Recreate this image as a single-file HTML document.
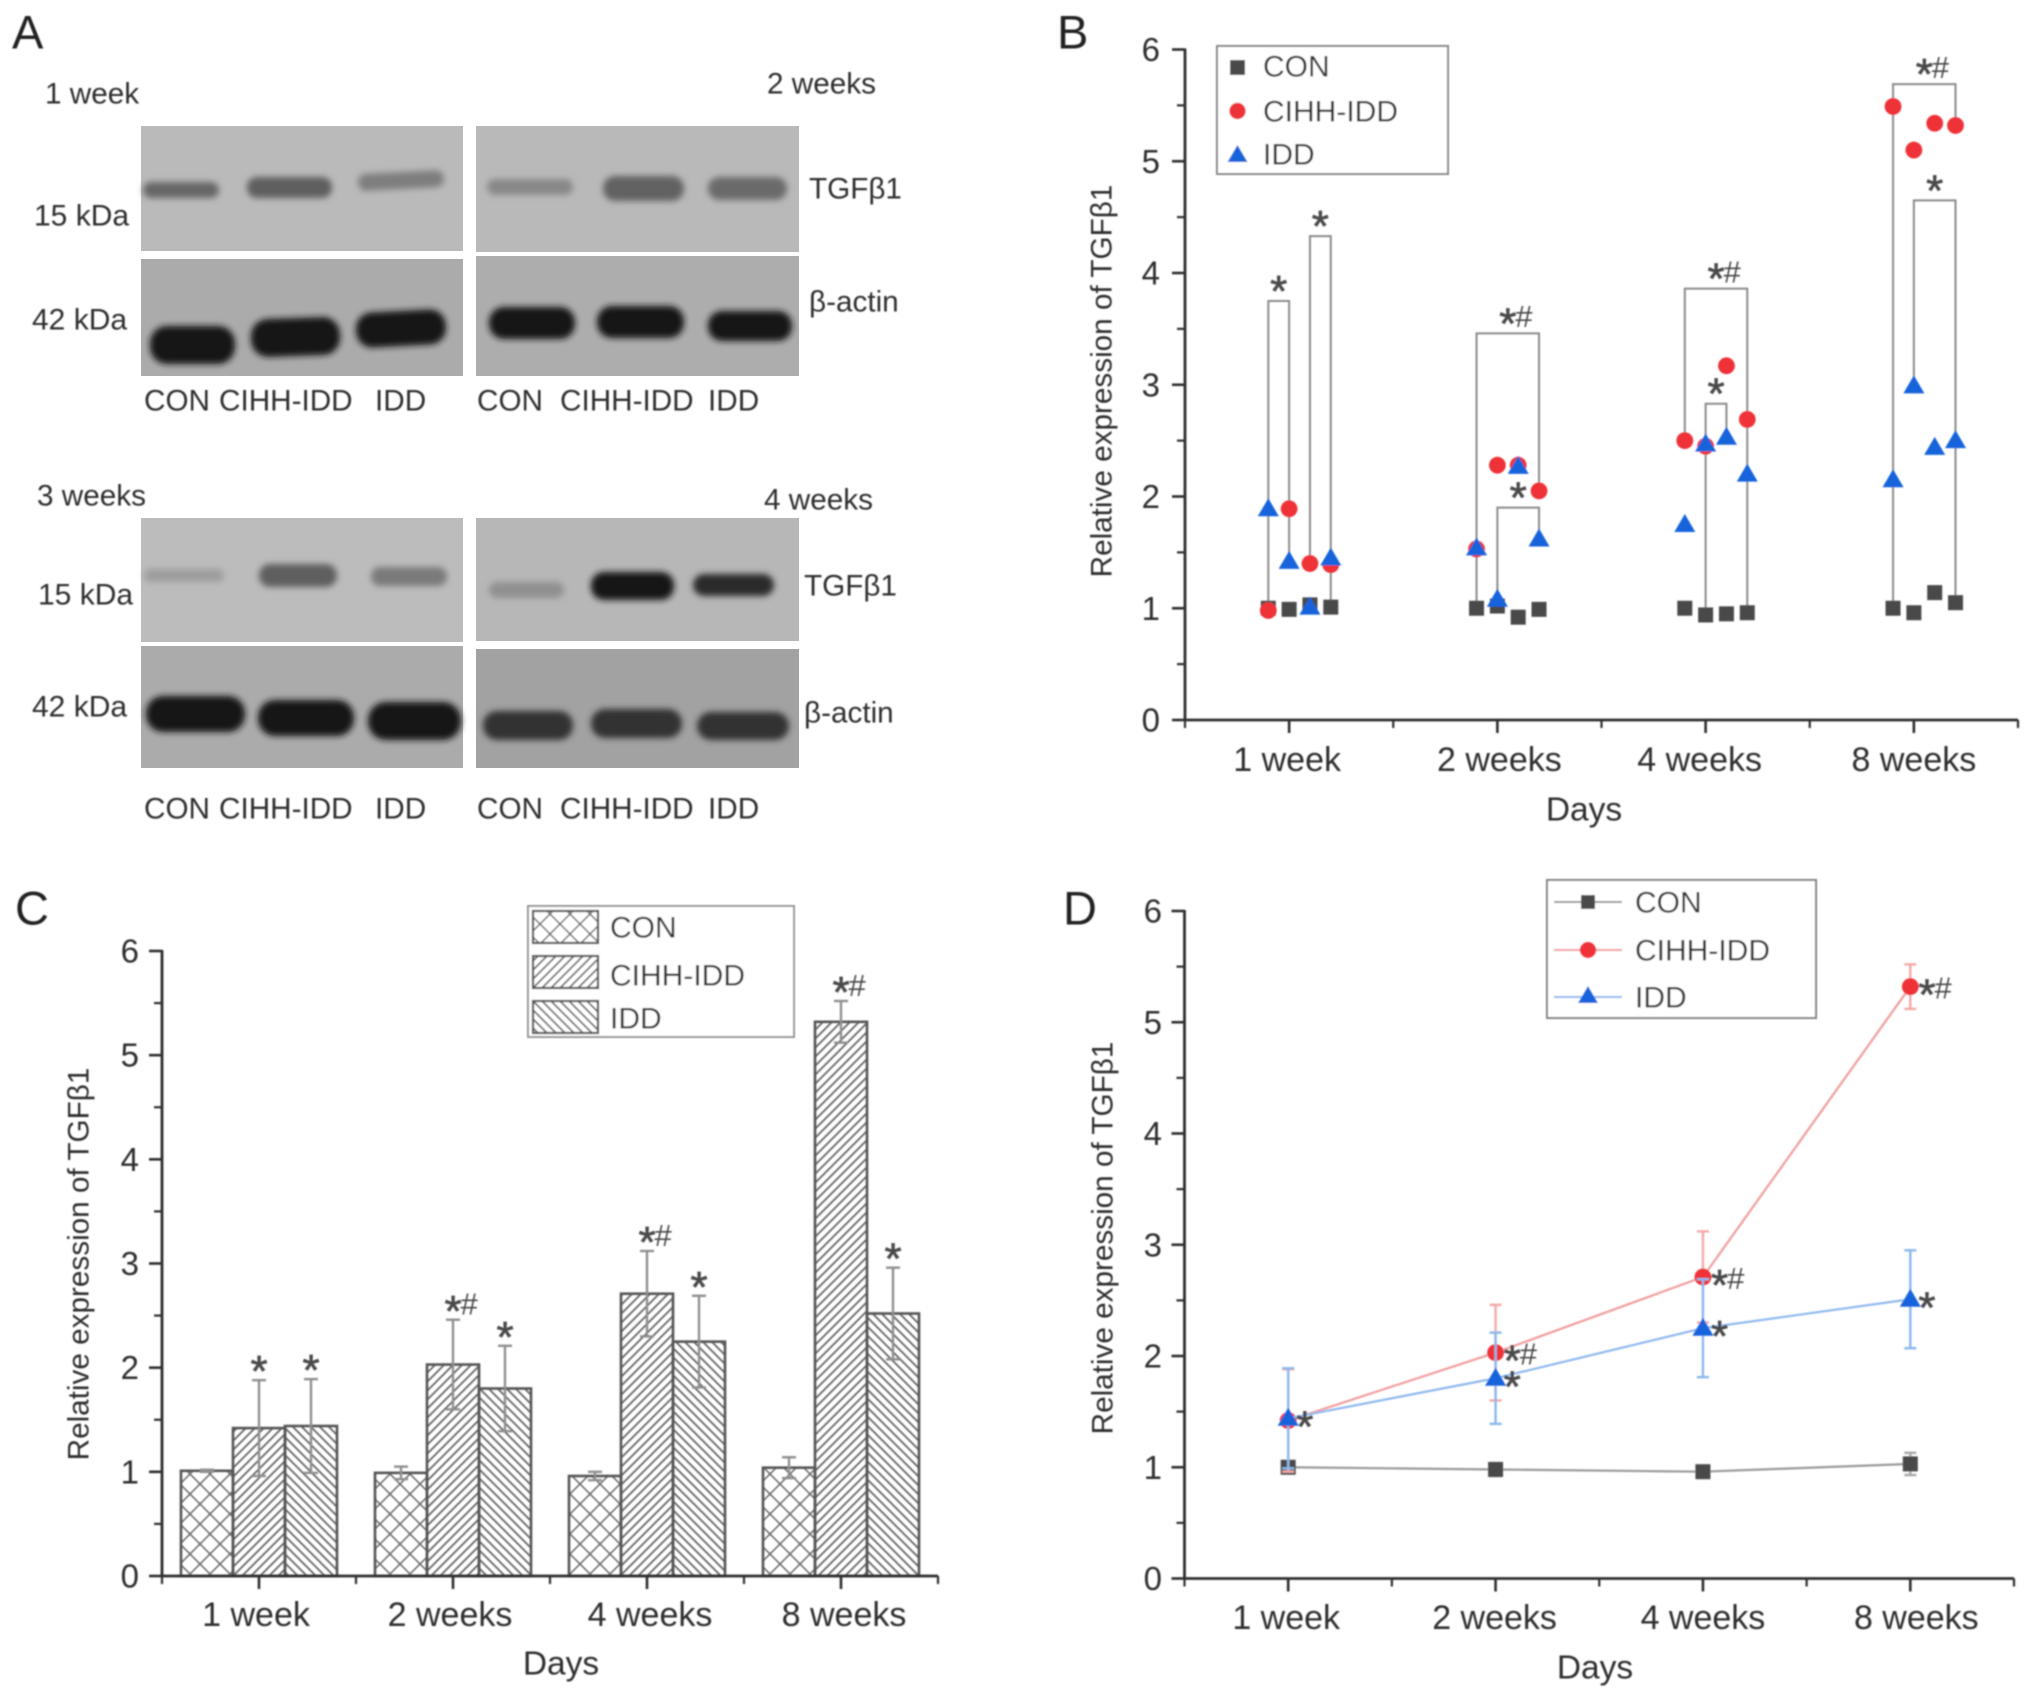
<!DOCTYPE html>
<html lang="en">
<head>
<meta charset="utf-8">
<title>TGFβ1 expression figure</title>
<style>
html,body{margin:0;padding:0;background:#fff;}
body{width:2032px;height:1701px;overflow:hidden;}
svg{display:block;font-family:"Liberation Sans",Arial,sans-serif;fill:#2e2e2e;}
.pl{font-size:29.7px;dominant-baseline:central;fill:#2e2e2e;}
.kd{font-size:30px;dominant-baseline:central;fill:#2e2e2e;}
.letter{font-size:47px;dominant-baseline:central;fill:#222;}
.lg{font-size:30px;dominant-baseline:central;fill:#2e2e2e;}
</style>
</head>
<body>
<svg id="figure" xmlns="http://www.w3.org/2000/svg" width="2032" height="1701" viewBox="0 0 2032 1701">
<defs>
<filter id="soft" x="-2%" y="-2%" width="104%" height="104%"><feGaussianBlur stdDeviation="0.75"/></filter>
<filter id="bandBlur" x="-20%" y="-60%" width="140%" height="220%"><feGaussianBlur stdDeviation="3.2"/></filter>
<pattern id="hatch-cross" patternUnits="userSpaceOnUse" width="20" height="20" patternTransform="translate(0 4)">
<path d="M-2 -2L22 22M-2 22L22 -2M-12 8L12 32M8 -12L32 12M8 32L32 8M-12 12L12 -12" stroke="#666" stroke-width="1.5" fill="none"/>
</pattern>
<pattern id="hatch-fwd" patternUnits="userSpaceOnUse" width="9" height="9">
<path d="M-2 2L2 -2M0 9L9 0M7 11L11 7" stroke="#666" stroke-width="1.8" fill="none"/>
</pattern>
<pattern id="hatch-back" patternUnits="userSpaceOnUse" width="9" height="9">
<path d="M-2 7L2 11M0 0L9 9M7 -2L11 2" stroke="#666" stroke-width="1.8" fill="none"/>
</pattern>
</defs>

<!-- PANEL A : western blots -->
<g id="panel-a">
<g>
<rect x="141" y="126" width="322" height="125" fill="#bababa"/>
<rect x="476" y="126" width="323" height="126" fill="#b9b9b9"/>
<rect x="141" y="259" width="322" height="117" fill="#ababab"/>
<rect x="476" y="256" width="323" height="120" fill="#adadad"/>
<rect x="141" y="518" width="322" height="124" fill="#bcbcbc"/>
<rect x="476" y="518" width="323" height="123" fill="#b7b7b7"/>
<rect x="141" y="646" width="322" height="122" fill="#ababab"/>
<rect x="476" y="649" width="323" height="119" fill="#a2a2a2"/>
<g filter="url(#bandBlur)">
<rect x="143" y="182" width="76" height="16" rx="8" fill="#666"/>
<rect x="247" y="177" width="85" height="21" rx="10" fill="#5f5f5f"/>
<rect x="358" y="172" width="86" height="17" rx="8" fill="#7e7e7e" transform="rotate(-3 402 181)"/>
<rect x="487" y="179" width="86" height="16" rx="8" fill="#888"/>
<rect x="603" y="176" width="81" height="25" rx="12" fill="#626262"/>
<rect x="708" y="177" width="79" height="23" rx="11" fill="#6b6b6b"/>
<rect x="150" y="326" width="85" height="38" rx="17" fill="#141414"/>
<rect x="251" y="318" width="89" height="38" rx="17" fill="#141414" transform="rotate(-2 296 337)"/>
<rect x="356" y="311" width="90" height="35" rx="16" fill="#141414" transform="rotate(-3 401 329)"/>
<rect x="489" y="307" width="86" height="32" rx="15" fill="#161616"/>
<rect x="597" y="306" width="87" height="32" rx="15" fill="#161616"/>
<rect x="708" y="311" width="84" height="30" rx="14" fill="#161616"/>
<rect x="144" y="569" width="80" height="13" rx="6" fill="#9d9d9d"/>
<rect x="259" y="564" width="78" height="23" rx="11" fill="#5f5f5f"/>
<rect x="371" y="567" width="76" height="19" rx="9" fill="#7a7a7a"/>
<rect x="489" y="582" width="75" height="16" rx="8" fill="#909090"/>
<rect x="591" y="572" width="83" height="28" rx="13" fill="#141414"/>
<rect x="693" y="574" width="81" height="22" rx="11" fill="#2a2a2a"/>
<rect x="146" y="696" width="99" height="36" rx="17" fill="#131313"/>
<rect x="258" y="700" width="96" height="36" rx="17" fill="#131313"/>
<rect x="368" y="702" width="93" height="38" rx="18" fill="#131313"/>
<rect x="483" y="711" width="90" height="29" rx="14" fill="#333"/>
<rect x="591" y="709" width="91" height="29" rx="14" fill="#333"/>
<rect x="697" y="712" width="92" height="28" rx="14" fill="#333"/>
</g>
</g>
<g filter="url(#soft)">
<text class="letter" x="12" y="32">A</text>
<text class="pl" x="45" y="94">1 week</text>
<text class="pl" x="767" y="84">2 weeks</text>
<text class="kd" x="34" y="216">15 kDa</text>
<text class="kd" x="32" y="320">42 kDa</text>
<text class="pl" x="809" y="189">TGFβ1</text>
<text class="pl" x="809" y="302">β-actin</text>
<text class="pl" x="144" y="401">CON</text>
<text class="pl" x="219" y="401">CIHH-IDD</text>
<text class="pl" x="375" y="401">IDD</text>
<text class="pl" x="477" y="401">CON</text>
<text class="pl" x="560" y="401">CIHH-IDD</text>
<text class="pl" x="708" y="401">IDD</text>
<text class="pl" x="37" y="496">3 weeks</text>
<text class="pl" x="764" y="500">4 weeks</text>
<text class="kd" x="38" y="595">15 kDa</text>
<text class="kd" x="32" y="707">42 kDa</text>
<text class="pl" x="804" y="586">TGFβ1</text>
<text class="pl" x="804" y="713">β-actin</text>
<text class="pl" x="144" y="809">CON</text>
<text class="pl" x="219" y="809">CIHH-IDD</text>
<text class="pl" x="375" y="809">IDD</text>
<text class="pl" x="477" y="809">CON</text>
<text class="pl" x="560" y="809">CIHH-IDD</text>
<text class="pl" x="708" y="809">IDD</text>
</g>
</g>

<!-- PANEL B -->
<g id="panel-b" filter="url(#soft)">
<text class="letter" x="1057" y="32">B</text>
<g id="b-axes"></g>
<g id="b-brackets"></g>
<g id="b-marks"></g>
<g>
<rect x="1217" y="46" width="231" height="128" fill="#fff" stroke="#858585" stroke-width="2"/>
<rect x="1230" y="60" width="15" height="15" fill="#4a4a4a"/>
<circle cx="1237.5" cy="111" r="8.2" fill="#ee3338"/>
<polygon points="1237.5,145 1247.5,162 1227.5,162" fill="#1464dc"/>
<text class="lg" x="1263" y="67">CON</text>
<text class="lg" x="1263" y="112">CIHH-IDD</text>
<text class="lg" x="1263" y="155">IDD</text>
</g>
</g>

<!-- PANEL C -->
<g id="panel-c" filter="url(#soft)">
<text class="letter" x="15" y="908">C</text>
<g id="c-marks"></g>
<g id="c-axes"></g>
<g>
<rect x="528" y="906" width="266" height="131" fill="#fff" stroke="#949494" stroke-width="2"/>
<rect x="533" y="911" width="65" height="32" fill="url(#hatch-cross)" stroke="#555" stroke-width="2.2"/>
<rect x="533" y="956" width="65" height="32" fill="url(#hatch-fwd)" stroke="#555" stroke-width="2.2"/>
<rect x="533" y="1001" width="65" height="32" fill="url(#hatch-back)" stroke="#555" stroke-width="2.2"/>
<text class="lg" x="610" y="928">CON</text>
<text class="lg" x="610" y="976">CIHH-IDD</text>
<text class="lg" x="610" y="1019">IDD</text>
</g>
</g>

<!-- PANEL D -->
<g id="panel-d" filter="url(#soft)">
<text class="letter" x="1063" y="908">D</text>
<g id="d-axes"></g>
<g id="d-marks"></g>
<g>
<rect x="1547" y="880" width="269" height="138" fill="#fff" stroke="#808080" stroke-width="2"/>
<line x1="1554" x2="1622" y1="902" y2="902" stroke="#9a9a9a" stroke-width="2"/>
<rect x="1581" y="895" width="14" height="14" fill="#4a4a4a"/>
<line x1="1554" x2="1622" y1="950" y2="950" stroke="#f29c9c" stroke-width="2"/>
<circle cx="1588" cy="950" r="8.2" fill="#ee3338"/>
<line x1="1554" x2="1622" y1="997" y2="997" stroke="#8fb8ef" stroke-width="2"/>
<polygon points="1588,986 1598,1003 1578,1003" fill="#1464dc"/>
<text class="lg" x="1635" y="903">CON</text>
<text class="lg" x="1635" y="951">CIHH-IDD</text>
<text class="lg" x="1635" y="998">IDD</text>
</g>
</g>
</svg>

<script>
// ---------- shared data ----------
const categories = ['1 week', '2 weeks', '4 weeks', '8 weeks'];
const yTickLabels = ['0', '1', '2', '3', '4', '5', '6'];
const xAxisTitle = 'Days';
const yAxisTitle = 'Relative expression of TGFβ1';

// ---------- panel B : replicate scatter ----------
const replicateOffsets = [-0.1, 0, 0.1, 0.2];
const scatterCon = [[1.00, 0.99, 1.03, 1.01], [1.00, 1.02, 0.92, 0.99], [1.00, 0.94, 0.95, 0.96], [1.00, 0.96, 1.14, 1.05]];
const scatterCihh = [[0.98, 1.89, 1.40, 1.39], [1.53, 2.28, 2.28, 2.05], [2.50, 2.45, 3.17, 2.69], [5.49, 5.10, 5.34, 5.32]];
const scatterIdd = [[1.89, 1.42, 1.01, 1.45], [1.54, 1.08, 2.27, 1.62], [1.75, 2.47, 2.53, 2.20], [2.15, 2.99, 2.44, 2.50]];
// bracket: left category pos, right category pos, top value, left foot, right foot, significance label
const sigBrackets = [
  [0.9, 1.0, 3.75, 1.00, 1.42, '*'],
  [1.1, 1.2, 4.33, 1.40, 1.01, '*'],
  [1.9, 2.2, 3.46, 1.00, 2.05, '*#'],
  [2.0, 2.2, 1.90, 1.08, 1.62, '*'],
  [2.9, 3.2, 3.86, 2.50, 0.96, '*#'],
  [3.0, 3.1, 2.83, 0.94, 2.53, '*'],
  [3.9, 4.2, 5.69, 1.00, 5.32, '*#'],
  [4.0, 4.2, 4.65, 2.99, 1.05, '*']
];

// ---------- panel C / D : means ----------
const barCon = [1.01, 0.99, 0.96, 1.04];
const barCihh = [1.42, 2.03, 2.71, 5.32];
const barIdd = [1.44, 1.80, 2.25, 2.52];
const barConErr = [0.01, 0.06, 0.04, 0.10];
const barCihhErr = [0.46, 0.43, 0.41, 0.20];
const barIddErr = [0.45, 0.41, 0.44, 0.44];
const barCihhSig = ['*', '*#', '*#', '*#'];
const barIddSig = ['*', '*', '*', '*'];

const lineCon = [1.00, 0.98, 0.96, 1.03];
const lineCihh = [1.42, 2.03, 2.71, 5.32];
const lineIdd = [1.44, 1.80, 2.25, 2.51];
const lineConErr = [0.01, 0.06, 0.04, 0.10];
const lineCihhErr = [0.46, 0.43, 0.41, 0.20];
const lineIddErr = [0.45, 0.41, 0.44, 0.44];
const lineCihhSig = ['', '*#', '*#', '*#'];
const lineIddSig = ['*', '*', '*', '*'];

// ---------- helpers ----------
const NS = 'http://www.w3.org/2000/svg';
function make(tag, parent, props) {
  const el = document.createElementNS(NS, tag);
  for (const k in props) el.setAttribute(k, props[k]);
  parent.appendChild(el);
  return el;
}
function scales(box) {
  return {
    x: v => box.x0 + (v - 0.5) / categories.length * (box.x1 - box.x0),
    y: v => box.y0 + (v / 6) * (box.yTop - box.y0)
  };
}
function drawAxes(target, box, s) {
  const g = document.getElementById(target);
  const ink = '#2e2e2e';
  const xLine = make('line', g, {x1: box.x0 - 1, x2: box.x1, y1: box.y0, y2: box.y0, stroke: ink, 'stroke-width': 2.8});
  
  
  const yLine = make('line', g, {x1: box.x0, x2: box.x0, y1: box.y0 + 1, y2: box.yTop - 1, stroke: ink, 'stroke-width': 2.8});
  
  
  yTickLabels.forEach((lab, i) => {
    const v = Number(lab);
    const tick = make('line', g, {x1: box.x0 - 13, x2: box.x0, y1: s.y(v), y2: s.y(v), stroke: ink, 'stroke-width': 2.6});
    
    
    if (i < yTickLabels.length - 1) {
      const minor = make('line', g, {x1: box.x0 - 8, x2: box.x0, y1: s.y(v + 0.5), y2: s.y(v + 0.5), stroke: ink, 'stroke-width': 2.2});
      
      
    }
    const t = make('text', g, {x: box.yLabelX, y: s.y(v), 'text-anchor': 'end', 'dominant-baseline': 'central', 'font-size': 33, fill: ink});
    t.textContent = lab;
    
    
  });
  categories.forEach((lab, i) => {
    const px = s.x(i + 1);
    const tick = make('line', g, {x1: px, x2: px, y1: box.y0, y2: box.y0 + 13, stroke: ink, 'stroke-width': 2.6});
    
    
    const t = make('text', g, {x: px + box.nudge[i], y: box.xLabelY, 'text-anchor': 'middle', 'dominant-baseline': 'central', 'font-size': 34, fill: ink});
    t.textContent = lab;
    
    
  });
  for (let i = 0; i <= categories.length; i++) {
    const px = s.x(i + 0.5);
    const minor = make('line', g, {x1: px, x2: px, y1: box.y0, y2: box.y0 + 8, stroke: ink, 'stroke-width': 2.2});
    
    
  }
  const xt = make('text', g, {x: box.xTitleX, y: box.xTitleY, 'text-anchor': 'middle', 'dominant-baseline': 'central', 'font-size': 33.5, fill: ink});
  xt.textContent = xAxisTitle;
  
  
  const yt = make('text', g, {transform: 'translate(' + box.yTitleX + ' ' + box.yTitleY + ') rotate(-90)', 'text-anchor': 'middle', 'dominant-baseline': 'central', 'font-size': 29.7, fill: ink});
  yt.textContent = yAxisTitle;
  
  
}
function square(g, cx, cy, fill) {
  return make('rect', g, {x: cx - 7.5, y: cy - 7.5, width: 15, height: 15, fill: fill});
}
function dot(g, cx, cy, fill) {
  return make('circle', g, {cx: cx, cy: cy, r: 8.4, fill: fill});
}
function tri(g, cx, cy, fill) {
  return make('polygon', g, {points: (cx) + ',' + (cy - 10.5) + ' ' + (cx + 10.5) + ',' + (cy + 7.5) + ' ' + (cx - 10.5) + ',' + (cy + 7.5), fill: fill});
}
// The star is drawn larger and raised to the same centre line as the narrower hash.
function sigText(g, label, px, centerY, anchor) {
  const starSize = 44;
  const hashSize = 31;
  const t = make('text', g, {x: px, 'text-anchor': anchor, fill: '#4a4a4a'});
  const star = make('tspan', t, {y: centerY + starSize * 0.5, 'font-size': starSize, stroke: '#4a4a4a', 'stroke-width': 0.7});
  star.textContent = label.charAt(0);
  if (label.length > 1) {
    const hash = make('tspan', t, {y: centerY + hashSize * 0.35, dx: -1, 'font-size': hashSize});
    hash.textContent = label.slice(1);
  }
  return t;
}
function errorBar(g, px, top, bottom, stroke, cap) {
  const grp = make('g', g, {stroke: stroke, 'stroke-width': 2.4, fill: 'none'});
  make('line', grp, {x1: px, x2: px, y1: top, y2: bottom});
  make('line', grp, {x1: px - cap, x2: px + cap, y1: top, y2: top});
  make('line', grp, {x1: px - cap, x2: px + cap, y1: bottom, y2: bottom});
  return grp;
}

// ---------- panel B ----------
const boxB = {x0: 1185, x1: 2018, yTop: 49.5, y0: 720, yLabelX: 1160, xLabelY: 760, xTitleX: 1584, xTitleY: 810, yTitleX: 1102, yTitleY: 381, nudge: [-2, 2, -6, 0]};
const sB = scales(boxB);
drawAxes('b-axes', boxB, sB);
const bBrackets = document.getElementById('b-brackets');
sigBrackets.forEach(br => {
  const xl = sB.x(br[0]), xr = sB.x(br[1]), top = sB.y(br[2]);
  const path = make('path', bBrackets, {d: 'M' + xl + ' ' + sB.y(br[3]) + 'V' + top + 'H' + xr + 'V' + sB.y(br[4]), fill: 'none', stroke: '#8a8a8a', 'stroke-width': 2});
  
  
  const lab = sigText(bBrackets, br[5], (xl + xr) / 2, top - 17, 'middle');
  
  
});
const bMarks = document.getElementById('b-marks');
scatterCon.forEach((vals, c) => vals.forEach((v, r) => {
  const m = square(bMarks, sB.x(c + 1 + replicateOffsets[r]), sB.y(v), '#4a4a4a');
  
  
}));
scatterCihh.forEach((vals, c) => vals.forEach((v, r) => {
  const m = dot(bMarks, sB.x(c + 1 + replicateOffsets[r]), sB.y(v), '#ee3338');
  
  
}));
scatterIdd.forEach((vals, c) => vals.forEach((v, r) => {
  const m = tri(bMarks, sB.x(c + 1 + replicateOffsets[r]), sB.y(v), '#1464dc');
  
  
}));

// ---------- panel C ----------
const boxC = {x0: 162, x1: 938, yTop: 951, y0: 1576, yLabelX: 139, xLabelY: 1615, xTitleX: 561, xTitleY: 1664, yTitleX: 79, yTitleY: 1264, nudge: [-3, -3, 3, 3]};
const sC = scales(boxC);
const cMarks = document.getElementById('c-marks');
const barW = 52;
function drawBars(vals, errs, sigs, idx, fill, nameBar, nameErr, nameSig) {
  vals.forEach((v, i) => {
    const cx = sC.x(i + 1) + (idx - 1) * barW;
    const top = sC.y(v);
    const bar = make('rect', cMarks, {x: cx - barW / 2, y: top, width: barW, height: sC.y(0) - top, fill: fill, stroke: '#555', 'stroke-width': 2.6});
    
    
  });
  vals.forEach((v, i) => {
    const cx = sC.x(i + 1) + (idx - 1) * barW;
    const eb = errorBar(cMarks, cx, sC.y(v + errs[i]), sC.y(v - errs[i]), '#8f8f8f', 7);
    
    
    if (sigs && sigs[i]) {
      const s = sigText(cMarks, sigs[i], cx, sC.y(v + errs[i]) - 16, 'middle');
      
      
    }
  });
}
drawBars(barCon, barConErr, null, 0, 'url(#hatch-cross)', 'bar-con', 'error-bar-con', 'significance-con');
drawBars(barCihh, barCihhErr, barCihhSig, 1, 'url(#hatch-fwd)', 'bar-cihh-idd', 'error-bar-cihh-idd', 'significance-cihh-idd');
drawBars(barIdd, barIddErr, barIddSig, 2, 'url(#hatch-back)', 'bar-idd', 'error-bar-idd', 'significance-idd');
drawAxes('c-axes', boxC, sC);

// ---------- panel D ----------
const boxD = {x0: 1184.5, x1: 2014, yTop: 911, y0: 1578.5, yLabelX: 1162, xLabelY: 1618, xTitleX: 1595, xTitleY: 1668, yTitleX: 1103, yTitleY: 1238, nudge: [-2, -1, 0, 6]};
const sD = scales(boxD);
drawAxes('d-axes', boxD, sD);
const dMarks = document.getElementById('d-marks');
function drawSeries(vals, errs, sigs, color, errColor, marker, markColor, nameLine, nameErr, nameMark, nameSig) {
  vals.forEach((v, i) => {
    const eb = errorBar(dMarks, sD.x(i + 1), sD.y(v + errs[i]), sD.y(v - errs[i]), errColor, 6);
    
    
  });
  const line = make('polyline', dMarks, {points: vals.map((v, i) => sD.x(i + 1) + ',' + sD.y(v)).join(' '), fill: 'none', stroke: color, 'stroke-width': 2.2});
  
  
  vals.forEach((v, i) => {
    const m = marker(dMarks, sD.x(i + 1), sD.y(v), markColor);
    
    
    if (sigs && sigs[i]) {
      const s = sigText(dMarks, sigs[i], sD.x(i + 1) + 8, sD.y(v) + 1, 'start');
      
      
    }
  });
}
drawSeries(lineCon, lineConErr, null, '#9a9a9a', '#a8a8a8', square, '#4a4a4a', 'line-con', 'error-bar-con', 'point-con', 'significance-con');
drawSeries(lineCihh, lineCihhErr, lineCihhSig, '#f29c9c', '#f4a8a8', dot, '#ee3338', 'line-cihh-idd', 'error-bar-cihh-idd', 'point-cihh-idd', 'significance-cihh-idd');
drawSeries(lineIdd, lineIddErr, lineIddSig, '#8fb8ef', '#8ab8ee', tri, '#1464dc', 'line-idd', 'error-bar-idd', 'point-idd', 'significance-idd');
</script>
</body>
</html>
